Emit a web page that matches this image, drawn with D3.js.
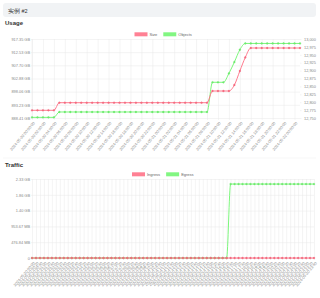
<!DOCTYPE html>
<html><head><meta charset="utf-8">
<script src="https://cdn.jsdelivr.net/npm/d3@7"></script>
<style>body{margin:0;background:#fff;font-family:"Liberation Sans",Arial,sans-serif}</style>
</head><body><svg id="c" width="320" height="298"></svg>
<script>
// ---------- data ----------
const headerText = "实例 #2";
const usageTitle = "Usage";
const trafficTitle = "Traffic";
const usageSeriesNames = ["Size", "Objects"];
const trafficSeriesNames = ["Ingress", "Egress"];

const usageLabels = ("2024-05-20 00:00:00,2024-05-20 01:00:00,2024-05-20 02:00:00,2024-05-20 03:00:00,2024-05-20 04:00:00,2024-05-20 05:00:00,2024-05-20 06:00:00,2024-05-20 07:00:00,2024-05-20 08:00:00,2024-05-20 09:00:00," +
 "2024-05-20 10:00:00,2024-05-20 11:00:00,2024-05-20 12:00:00,2024-05-20 13:00:00,2024-05-20 14:00:00,2024-05-20 15:00:00,2024-05-20 16:00:00,2024-05-20 17:00:00,2024-05-20 18:00:00,2024-05-20 19:00:00," +
 "2024-05-20 20:00:00,2024-05-20 21:00:00,2024-05-20 22:00:00,2024-05-20 23:00:00,2024-05-21 00:00:00,2024-05-21 01:00:00,2024-05-21 02:00:00,2024-05-21 03:00:00,2024-05-21 04:00:00,2024-05-21 05:00:00," +
 "2024-05-21 06:00:00,2024-05-21 07:00:00,2024-05-21 08:00:00,2024-05-21 09:00:00,2024-05-21 10:00:00,2024-05-21 11:00:00,2024-05-21 12:00:00,2024-05-21 13:00:00,2024-05-21 14:00:00,2024-05-21 15:00:00," +
 "2024-05-21 16:00:00,2024-05-21 17:00:00,2024-05-21 18:00:00,2024-05-21 19:00:00,2024-05-21 20:00:00,2024-05-21 21:00:00,2024-05-21 22:00:00,2024-05-21 23:00:00,2024-05-22 00:00:00,2024-05-22 01:00:00").split(",");

// Size in GB (left axis)
const usageSize = [891.23,891.23,891.23,891.23,891.23,894.01,894.01,894.01,894.01,894.01,
 894.01,894.01,894.01,894.01,894.01,894.01,894.01,894.01,894.01,894.01,
 894.01,894.01,894.01,894.01,894.01,894.01,894.01,894.01,894.01,894.01,
 894.01,894.01,894.01,898.30,898.30,898.30,898.30,900.50,905.63,910.61,
 914.05,914.05,914.05,914.05,914.05,914.05,914.05,914.05,914.05,914.05];
// Objects count (right axis)
const usageObjects = [12752,12752,12752,12752,12752,12769,12769,12769,12769,12769,
 12769,12769,12769,12769,12769,12769,12769,12769,12769,12769,
 12769,12769,12769,12769,12769,12769,12769,12769,12769,12769,
 12769,12769,12769,12863,12863,12863,12891,12927,12966,12986,
 12986,12986,12986,12986,12986,12986,12986,12986,12986,12986];

const usageLeftTicks = [888.41, 893.23, 898.06, 902.88, 907.70, 912.53, 917.35];
const usageRightTicks = [12750,12775,12800,12825,12850,12875,12900,12925,12950,12975,13000];

const trafficLabels = ("2024-05-20 00:00,2024-05-20 00:20,2024-05-20 00:40,2024-05-20 01:00,2024-05-20 01:20,2024-05-20 01:40,2024-05-20 02:00,2024-05-20 02:20,2024-05-20 02:40,2024-05-20 03:00," +
 "2024-05-20 03:20,2024-05-20 03:40,2024-05-20 04:00,2024-05-20 04:20,2024-05-20 04:40,2024-05-20 05:00,2024-05-20 05:20,2024-05-20 05:40,2024-05-20 06:00,2024-05-20 06:20," +
 "2024-05-20 06:40,2024-05-20 07:00,2024-05-20 07:20,2024-05-20 07:40,2024-05-20 08:00,2024-05-20 08:20,2024-05-20 08:40,2024-05-20 09:00,2024-05-20 09:20,2024-05-20 09:40," +
 "2024-05-20 10:00,2024-05-20 10:20,2024-05-20 10:40,2024-05-20 11:00,2024-05-20 11:20,2024-05-20 11:40,2024-05-20 12:00,2024-05-20 12:20,2024-05-20 12:40,2024-05-20 13:00," +
 "2024-05-20 13:20,2024-05-20 13:40,2024-05-20 14:00,2024-05-20 14:20,2024-05-20 14:40,2024-05-20 15:00,2024-05-20 15:20,2024-05-20 15:40,2024-05-20 16:00,2024-05-20 16:20," +
 "2024-05-20 16:40,2024-05-20 17:00,2024-05-20 17:20,2024-05-20 17:40,2024-05-20 18:00,2024-05-20 18:20,2024-05-20 18:40,2024-05-20 19:00,2024-05-20 19:20,2024-05-20 19:40," +
 "2024-05-20 20:00,2024-05-20 20:20,2024-05-20 20:40,2024-05-20 21:00,2024-05-20 21:20,2024-05-20 21:40,2024-05-20 22:00,2024-05-20 22:20,2024-05-20 22:40,2024-05-20 23:00," +
 "2024-05-20 23:20,2024-05-20 23:40").split(",");

// bytes
const trafficIngress = [0,0,0,0,0,0,0,0,0,0, 0,0,0,0,0,0,0,0,0,0, 0,0,0,0,0,0,0,0,0,0, 0,0,0,0,0,0,0,0,0,0,
 0,0,0,0,0,0,0,0,0,0, 0,0,0,0,0,0,0,0,0,0, 0,0,0,0,0,0,0,0,0,0, 0,0];
const trafficEgress = [0,0,0,0,0,0,0,0,0,0, 0,0,0,0,0,0,0,0,0,0, 0,0,0,0,0,0,0,0,0,0, 0,0,0,0,0,0,0,0,0,0,
 0,0,0,0,0,0,0,0,0,0,
 2.34e9,2.34e9,2.34e9,2.34e9,2.34e9,2.34e9,2.34e9,2.34e9,2.34e9,2.34e9,
 2.34e9,2.34e9,2.34e9,2.34e9,2.34e9,2.34e9,2.34e9,2.34e9,2.34e9,2.34e9, 2.34e9,2.34e9];
const trafficTicks = [0, 5e8, 1e9, 1.5e9, 2e9, 2.5e9];

// ---------- drawing ----------
const RED = "#ff6b81", GREEN = "#6cf56c", GRID = "#e8e8e8", TXT = "#666";
const svg = d3.select("#c");

function fmtBytes(b) {
  if (b === 0) return "0";
  const u = ["B","KB","MB","GB","TB"];
  const i = Math.floor(Math.log(b) / Math.log(1024));
  return (b / Math.pow(1024, i)).toFixed(2) + " " + u[i];
}

// header
svg.append("rect").attr("x", 3).attr("y", 3).attr("width", 313).attr("height", 14).attr("rx", 3).attr("fill", "#f1f3f5");
svg.append("text").attr("x", 8).attr("y", 12.5).attr("font-size", 5.5).attr("fill", "#333").text(headerText);

function legend(g, cx, y, names) {
  const cols = [RED, GREEN];
  let x = cx;
  names.forEach((n, i) => {
    g.append("rect").attr("x", x).attr("y", y).attr("width", 13).attr("height", 4).attr("fill", cols[i]).attr("opacity", 0.85);
    const t = g.append("text").attr("x", x + 15).attr("y", y + 3.8).attr("font-size", 4).attr("fill", TXT).text(n);
    x += 15 + t.node().getComputedTextLength() + 6;
  });
}

function xAxis(g, x, labels, shown, y0, h) {
  const ax = d3.axisBottom(x).tickValues(shown).tickSize(-h).tickSizeOuter(0).tickPadding(2);
  const a = g.append("g").attr("transform", `translate(0,${y0})`).call(ax);
  a.select(".domain").remove();
  a.selectAll("line").attr("stroke", GRID).attr("stroke-width", 0.5).attr("y2", -h).attr("y1", 2);
  a.selectAll("text").attr("font-size", 3.9).attr("fill", "#888").attr("font-family", "Liberation Sans")
    .attr("text-anchor", "end").attr("dy", 0).attr("transform", "translate(1,4) rotate(-50)");
}

// ---- Usage ----
svg.append("text").attr("x", 5).attr("y", 25).attr("font-size", 6).attr("font-weight", "bold").attr("fill", "#333").text(usageTitle);
const gu = svg.append("g");
legend(gu, 134.5, 32.3, usageSeriesNames);
const ux = d3.scalePoint().domain(usageLabels).range([32, 300]);
const uyL = d3.scaleLinear().domain([usageLeftTicks[0], usageLeftTicks[usageLeftTicks.length - 1]]).range([118, 39]);
const uyR = d3.scaleLinear().domain([usageRightTicks[0], usageRightTicks[usageRightTicks.length - 1]]).range([118, 39]);

const la = gu.append("g").attr("transform", "translate(32,0)")
  .call(d3.axisLeft(uyL).tickValues(usageLeftTicks).tickSize(-268).tickPadding(2).tickFormat(d => d.toFixed(2) + " GB"));
la.select(".domain").remove();
la.selectAll("line").attr("stroke", GRID).attr("stroke-width", 0.5).attr("x2", 268).attr("x1", -1.5);
la.selectAll("text").attr("font-size", 3.9).attr("fill", "#888").attr("font-family", "Liberation Sans");

const ra = gu.append("g").attr("transform", "translate(300,0)")
  .call(d3.axisRight(uyR).tickValues(usageRightTicks).tickSize(1.5).tickPadding(2.5));
ra.select(".domain").remove();
ra.selectAll("line").attr("stroke", GRID).attr("stroke-width", 0.5);
ra.selectAll("text").attr("font-size", 3.9).attr("fill", "#888").attr("font-family", "Liberation Sans");

xAxis(gu, ux, usageLabels, usageLabels.filter((d, i) => i % 2 === 0), 118, 79);
gu.append("line").attr("x1", 32).attr("x2", 32).attr("y1", 39).attr("y2", 118).attr("stroke", GRID).attr("stroke-width", 0.5);

function series(g, x, y, labels, vals, col) {
  const line = d3.line().x((d, i) => x(labels[i])).y(d => y(d)).curve(d3.curveMonotoneX);
  g.append("path").attr("d", line(vals)).attr("fill", "none").attr("stroke", col).attr("stroke-width", 0.9);
  g.selectAll(null).data(vals).enter().append("circle")
    .attr("cx", (d, i) => x(labels[i])).attr("cy", d => y(d)).attr("r", 0.9)
    .attr("fill", col).attr("stroke", d3.color(col).darker(0.4)).attr("stroke-width", 0.3);
}
series(gu, ux, uyR, usageLabels, usageObjects, GREEN);
series(gu, ux, uyL, usageLabels, usageSize, RED);

// separator
svg.append("line").attr("x1", 3).attr("x2", 316).attr("y1", 158).attr("y2", 158).attr("stroke", "#eee").attr("stroke-width", 0.5);

// ---- Traffic ----
svg.append("text").attr("x", 5).attr("y", 167).attr("font-size", 6).attr("font-weight", "bold").attr("fill", "#333").text(trafficTitle);
const gt = svg.append("g");
legend(gt, 132, 172.3, trafficSeriesNames);
const tx = d3.scalePoint().domain(trafficLabels).range([32, 314]);
const ty = d3.scaleLinear().domain([trafficTicks[0], trafficTicks[trafficTicks.length - 1]]).range([258, 179]);
const ta = gt.append("g").attr("transform", "translate(32,0)")
  .call(d3.axisLeft(ty).tickValues(trafficTicks).tickSize(-282).tickPadding(2).tickFormat(fmtBytes));
ta.select(".domain").remove();
ta.selectAll("line").attr("stroke", GRID).attr("stroke-width", 0.5).attr("x2", 282).attr("x1", -1.5);
ta.selectAll("text").attr("font-size", 3.9).attr("fill", "#888").attr("font-family", "Liberation Sans");
xAxis(gt, tx, trafficLabels, trafficLabels, 258, 79);
series(gt, tx, ty, trafficLabels, trafficEgress, GREEN);
series(gt, tx, ty, trafficLabels, trafficIngress, RED);
</script></body></html>
